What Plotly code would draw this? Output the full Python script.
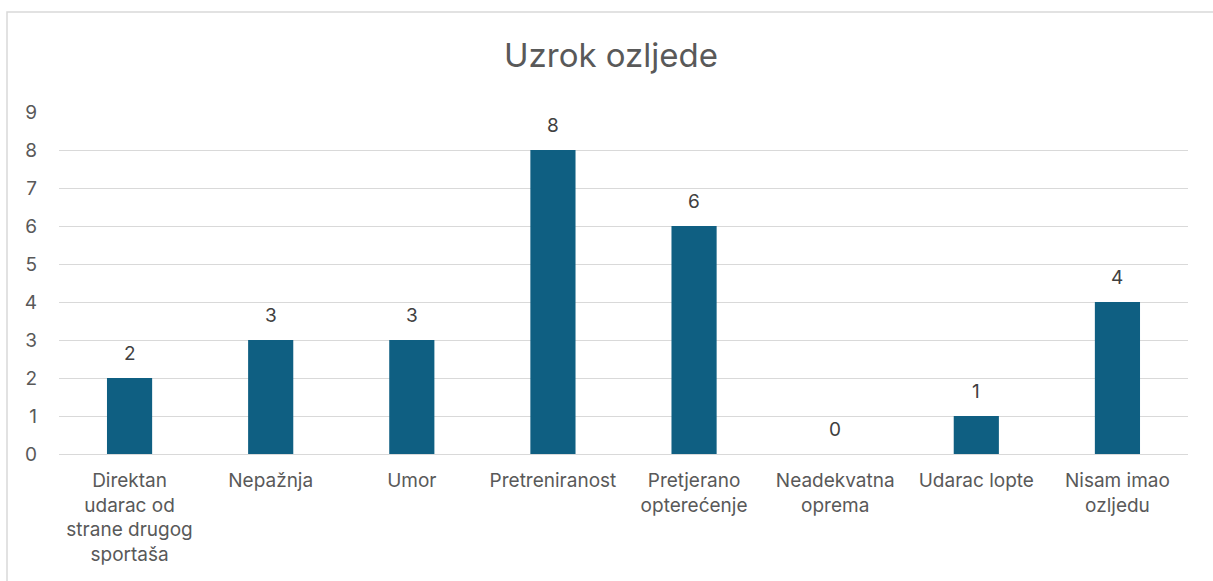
import plotly.graph_objects as go

categories = ["Direktan<br>udarac od<br>strane drugog<br>sportaša", "Nepažnja", "Umor", "Pretreniranost",
              "Pretjerano<br>opterećenje", "Neadekvatna<br>oprema", "Udarac lopte", "Nisam imao<br>ozljedu"]
values = [2, 3, 3, 8, 6, 0, 1, 4]
y_ticks = list(range(0, 10))

W, H = 1213, 581
ml, mr, mt, mb = 59, 25, 112, 127
pw, ph = W - ml - mr, H - mt - mb

fig = go.Figure(go.Bar(
    x=categories, y=values,
    marker=dict(color="#0F5F82", line=dict(width=0)),
    hoverinfo="x+y",
))

for c, v in zip(categories, values):
    fig.add_annotation(x=c, y=v, text=str(v), showarrow=False, yshift=25, yanchor="middle",
                       font=dict(size=19, color="#404040", family="Inter"))

fig.update_layout(
    width=W, height=H,
    margin=dict(l=ml, r=mr, t=mt, b=mb),
    paper_bgcolor="white", plot_bgcolor="white",
    bargap=0.68,
    showlegend=False,
    font=dict(family="Inter", color="#595959"),
    title=dict(text="Uzrok ozljede", xref="paper", x=(611 - ml) / pw, xanchor="center",
               y=1 - 55 / H, yanchor="middle",
               font=dict(size=33, color="#595959", family="Inter")),
    xaxis=dict(showgrid=False, showline=False, zeroline=False, ticks="",
               tickfont=dict(size=19, color="#595959"), ticklabelstandoff=13, automargin=False),
    yaxis=dict(range=[0, 9], tickvals=y_ticks, showgrid=True, gridcolor="#D9D9D9", gridwidth=1.3,
               zeroline=True, zerolinecolor="#D9D9D9", zerolinewidth=1.3, showline=False, ticks="",
               tickfont=dict(size=19, color="#595959"), ticklabelstandoff=21, automargin=False),
    shapes=[dict(type="path", xref="paper", yref="paper",
                 path=f"M {(7 - ml) / pw} {-(H + 20 - mt - ph) / ph} L {(7 - ml) / pw} {(H - 12 - mb) / ph} L {(W + 20 - ml) / pw} {(H - 12 - mb) / ph}",
                 line=dict(color="#D9D9D9", width=1.5))],
)

fig.write_html("out.html", config={"displayModeBar": False},
               post_script="document.body.style.margin='0';")
